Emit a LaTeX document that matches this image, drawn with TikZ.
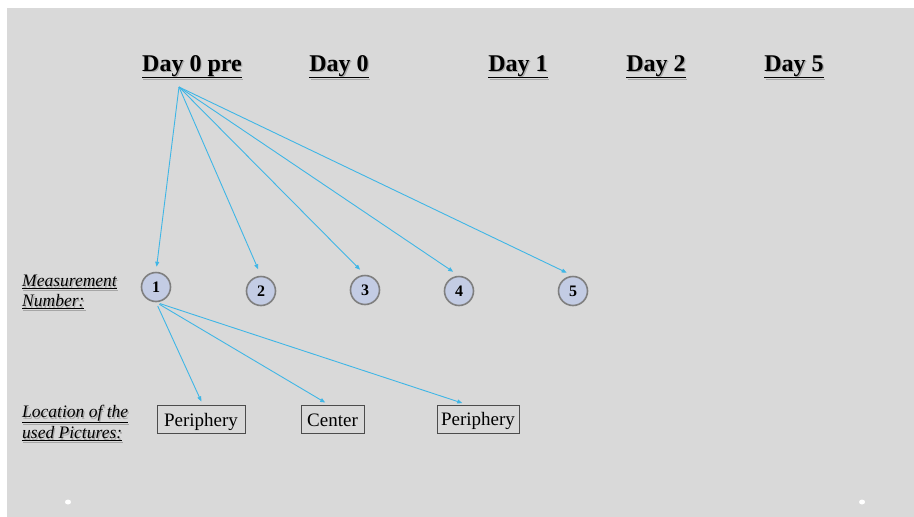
\documentclass[tikz,border=0pt]{standalone}
\usepackage{fontspec}
\setmainfont{Liberation Serif}
\usetikzlibrary{arrows.meta}
\definecolor{bg}{HTML}{D9D9D9}
\definecolor{arr}{HTML}{3FB6E6}
\definecolor{cfill}{HTML}{C3CCE4}
\definecolor{cdraw}{HTML}{7F7F7F}
\newcommand{\shd}[1]{\leavevmode\rlap{\kern1.2pt\raisebox{-1.5pt}{\color{black!35}\underline{#1}}}\underline{#1}}
\tikzset{
  day/.style={font=\fontsize{24}{26}\selectfont\bfseries, inner sep=0pt, anchor=base},
  meas/.style={circle, draw=cdraw, line width=1.6pt, fill=cfill, minimum size=29pt, inner sep=0pt, font=\fontsize{16}{18}\selectfont\bfseries},
  loc/.style={draw=black!70, line width=0.8pt, minimum height=28pt, inner sep=2pt, text height=15pt, text depth=2pt, font=\fontsize{19}{21}\selectfont},
  side/.style={align=left, anchor=north west, inner sep=0pt, font=\fontsize{17.5}{19}\selectfont\itshape},
  conn/.style={draw=arr, line width=0.9pt, -{Triangle[length=5pt,width=4pt]}, shorten >=4pt}
}
\begin{document}
\begin{tikzpicture}[x=1pt,y=-1pt]
\useasboundingbox (0,0) rectangle (914,517);
\fill[white] (0,0) rectangle (914,517);
\fill[bg] (7,8) rectangle (914,517);
\fill[white] (68,502) ellipse (3 and 2.5);
\fill[white] (862,502) ellipse (3 and 2.5);

\node[day] (d0p) at (192,71) {\shd{Day 0 pre}};
\node[day] (d0) at (339,71) {\shd{Day 0}};
\node[day] (d1) at (518,71) {\shd{Day 1}};
\node[day] (d2) at (656,71) {\shd{Day 2}};
\node[day] (d5) at (794,71) {\shd{Day 5}};

\coordinate (src) at (179,87);

\node[side] (mlab) at (22,275) {\shd{Measurement}\\[1pt]\shd{Number:}};
\node[side] (llab) at (22,405) {\shd{Location of the}\\[1pt]\shd{used Pictures:}};

\node[meas] (m1) at (156,287) {1};
\node[meas] (m2) at (261,291) {2};
\node[meas] (m3) at (365,290) {3};
\node[meas] (m4) at (459,291) {4};
\node[meas] (m5) at (573,291) {5};

\node[loc, minimum width=88pt] (p1) at (201,419.5) {Periphery};
\node[loc, minimum width=63pt] (c) at (332.5,419.5) {Center};
\node[loc, minimum width=82pt] (p2) at (478,419) {Periphery};

\draw[conn, shorten >=5pt] (src) -- (m1.north);
\draw[conn, shorten >=7pt] (src) -- (m2.north);
\draw[conn, shorten >=7pt] (src) -- (m3.north);
\draw[conn, shorten >=7pt] (src) -- (m4.north);
\draw[conn, shorten >=7pt] (src) -- (m5.north);

\draw[conn, shorten <=4pt] (m1.south) -- ([xshift=2pt]p1.north);
\draw[conn, shorten <=4pt, shorten >=5pt] (m1.south) -- ([xshift=-3pt]c.north);
\draw[conn, shorten <=4pt, shorten >=5pt] (m1.south) -- ([xshift=-11pt]p2.north);
\end{tikzpicture}
\end{document}
